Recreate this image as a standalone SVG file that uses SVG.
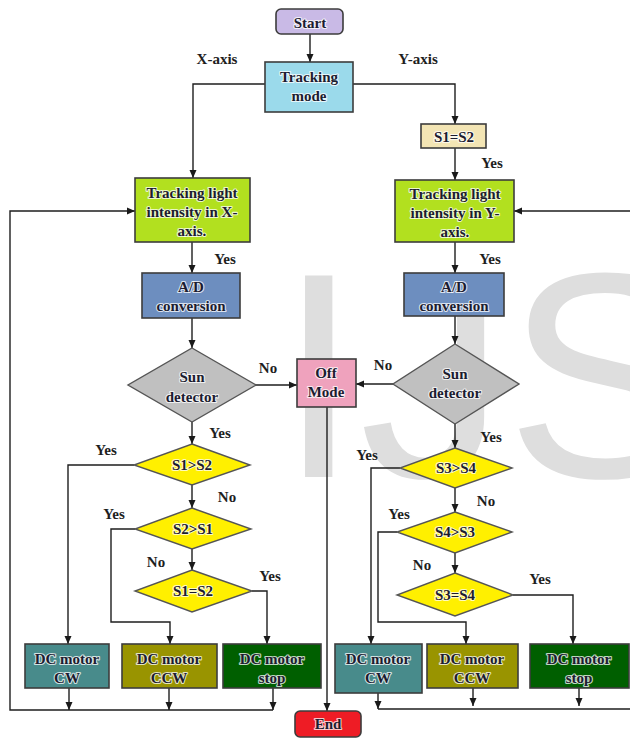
<svg xmlns="http://www.w3.org/2000/svg" width="630" height="739" viewBox="0 0 630 739">
<defs>
<marker id="ah" markerUnits="userSpaceOnUse" markerWidth="8" markerHeight="8" refX="8" refY="4" orient="auto">
<path d="M0,0.5 L8,4 L0,7.5 z" fill="#1a1a1a"/>
</marker>
</defs>
<style>
.box{stroke:#3c3c3c;stroke-width:1.6}
.dia{stroke:#555;stroke-width:1.4}
.t{font-family:"Liberation Serif",serif;font-weight:bold;font-size:15px;fill:#1c1c30;text-anchor:middle}
.h{stroke:#ffffff;stroke-opacity:0.75;stroke-width:2.2;paint-order:stroke;stroke-linejoin:round}
.lb{font-family:"Liberation Serif",serif;font-weight:bold;font-size:15px;fill:#1e1e1e;text-anchor:middle}
.c{fill:none;stroke:#1e1e1e;stroke-width:1.4}
.a{marker-end:url(#ah)}
.wm{font-family:"Liberation Sans",Arial,sans-serif;font-size:293px;fill:#dedede}
</style>
<rect width="630" height="739" fill="#ffffff"/>
<text class="wm" x="278" y="477">IJS</text>

<g id="connectors">
<path class="c a" d="M310,34 V62"/>
<path class="c a" d="M265,84 H193 V178"/>
<path class="c a" d="M353,84 H455 V124"/>
<path class="c a" d="M455,148 V180"/>
<path class="c a" d="M192,242 V273"/>
<path class="c a" d="M192,318 V348"/>
<path class="c a" d="M192,422 V444"/>
<path class="c a" d="M192,485 V508"/>
<path class="c a" d="M192,549 V570"/>
<path class="c a" d="M455,242 V273"/>
<path class="c a" d="M455,316 V344"/>
<path class="c a" d="M455,424 V448"/>
<path class="c a" d="M455,488 V512"/>
<path class="c a" d="M455,553 V573"/>
<path class="c a" d="M256,385 H297"/>
<path class="c a" d="M393,384 H356"/>
<path class="c a" d="M327,407 V711"/>
<path class="c a" d="M134,465 H68 V644"/>
<path class="c a" d="M135,529 H111 V622 H170 V644"/>
<path class="c a" d="M252,591 H267 V644"/>
<path class="c a" d="M400,468 H371 V644"/>
<path class="c a" d="M397,532 H378 V622 H466 V644"/>
<path class="c a" d="M513,595 H573 V644"/>
<path class="c a" d="M69,688 V710"/>
<path class="c a" d="M169,688 V710"/>
<path class="c a" d="M273,688 V710"/>
<path class="c a" d="M273,710 H10 V211 H135"/>
<path class="c a" d="M378,693 V709"/>
<path class="c a" d="M473,688 V706"/>
<path class="c a" d="M579,688 V706"/>
<path class="c" d="M378,709 H630"/>
<path class="c a" d="M630,211 H514"/>
</g>

<g id="labels">
<text class="lb" x="217" y="64">X-axis</text>
<text class="lb" x="418" y="64">Y-axis</text>
<text class="lb" x="492" y="168">Yes</text>
<text class="lb" x="225" y="264">Yes</text>
<text class="lb" x="490" y="264">Yes</text>
<text class="lb" x="268" y="373">No</text>
<text class="lb" x="383" y="370">No</text>
<text class="lb" x="220" y="438">Yes</text>
<text class="lb" x="106" y="455">Yes</text>
<text class="lb" x="227" y="502">No</text>
<text class="lb" x="114" y="519">Yes</text>
<text class="lb" x="156" y="567">No</text>
<text class="lb" x="270" y="581">Yes</text>
<text class="lb" x="491" y="442">Yes</text>
<text class="lb" x="367" y="460">Yes</text>
<text class="lb" x="486" y="506">No</text>
<text class="lb" x="399" y="519">Yes</text>
<text class="lb" x="422" y="570">No</text>
<text class="lb" x="540" y="584">Yes</text>
</g>

<g id="start">
<rect class="box" x="276" y="9" width="67" height="25" rx="5" fill="#c9bae6" stroke="#777"/>
<text class="t h" x="310" y="28">Start</text>
</g>
<g id="tracking-mode">
<rect class="box" x="265" y="62" width="88" height="50" fill="#9bdaeb"/>
<text class="t h" x="309" y="82">Tracking</text>
<text class="t h" x="309" y="101">mode</text>
</g>
<g id="s1eqs2-box">
<rect class="box" x="421" y="124" width="65" height="24" fill="#f3e5b4"/>
<text class="t h" x="454" y="142">S1=S2</text>
</g>
<g id="track-x">
<rect class="box" x="135" y="178" width="115" height="64" fill="#b2e01f"/>
<text class="t h" x="192" y="198">Tracking light</text>
<text class="t h" x="192" y="217">intensity in X-</text>
<text class="t h" x="192" y="236">axis.</text>
</g>
<g id="track-y">
<rect class="box" x="395" y="180" width="119" height="62" fill="#b2e01f"/>
<text class="t h" x="455" y="199">Tracking light</text>
<text class="t h" x="455" y="218">intensity in Y-</text>
<text class="t h" x="455" y="237">axis.</text>
</g>
<g id="ad-x">
<rect class="box" x="142" y="273" width="98" height="45" fill="#6d8ebf"/>
<text class="t h" x="191" y="292">A/D</text>
<text class="t h" x="191" y="311">conversion</text>
</g>
<g id="ad-y">
<rect class="box" x="404" y="273" width="100" height="43" fill="#6d8ebf"/>
<text class="t h" x="454" y="292">A/D</text>
<text class="t h" x="454" y="311">conversion</text>
</g>
<g id="sun-x">
<polygon class="dia" points="192,348 256,385 192,422 128,385" fill="#c0c0c0"/>
<text class="t h" x="192" y="382">Sun</text>
<text class="t h" x="192" y="402">detector</text>
</g>
<g id="sun-y">
<polygon class="dia" points="455,344 519,384 455,424 393,384" fill="#c0c0c0"/>
<text class="t h" x="455" y="379">Sun</text>
<text class="t h" x="455" y="398">detector</text>
</g>
<g id="off-mode">
<rect class="box" x="297" y="359" width="59" height="48" fill="#efa2bd"/>
<text class="t h" x="326" y="378">Off</text>
<text class="t h" x="326" y="397">Mode</text>
</g>
<g id="s1gts2">
<polygon class="dia" points="192,444 250,465 192,485 134,465" fill="#fff000"/>
<text class="t h" x="192" y="470">S1&gt;S2</text>
</g>
<g id="s2gts1">
<polygon class="dia" points="192,508 251,529 192,549 135,529" fill="#fff000"/>
<text class="t h" x="193" y="534">S2&gt;S1</text>
</g>
<g id="s1eqs2">
<polygon class="dia" points="192,570 252,591 192,612 135,591" fill="#fff000"/>
<text class="t h" x="193" y="596">S1=S2</text>
</g>
<g id="s3gts4">
<polygon class="dia" points="455,448 512,468 455,488 400,468" fill="#fff000"/>
<text class="t h" x="456" y="473">S3&gt;S4</text>
</g>
<g id="s4gts3">
<polygon class="dia" points="455,512 512,532 455,553 397,532" fill="#fff000"/>
<text class="t h" x="455" y="537">S4&gt;S3</text>
</g>
<g id="s3eqs4">
<polygon class="dia" points="455,573 513,595 455,616 397,595" fill="#fff000"/>
<text class="t h" x="455" y="600">S3=S4</text>
</g>
<g id="cw-x">
<rect class="box" x="25" y="644" width="84" height="44" fill="#488b8b"/>
<text class="t h" x="67" y="664">DC motor</text>
<text class="t h" x="67" y="683">CW</text>
</g>
<g id="ccw-x">
<rect class="box" x="122" y="644" width="95" height="44" fill="#999400"/>
<text class="t h" x="169" y="664">DC motor</text>
<text class="t h" x="169" y="683">CCW</text>
</g>
<g id="stop-x">
<rect class="box" x="223" y="644" width="98" height="44" fill="#005f00"/>
<text class="t h" x="272" y="664">DC motor</text>
<text class="t h" x="272" y="683">stop</text>
</g>
<g id="cw-y">
<rect class="box" x="335" y="644" width="87" height="49" fill="#488b8b" stroke="#aaa"/>
<text class="t h" x="378" y="664">DC motor</text>
<text class="t h" x="378" y="683">CW</text>
</g>
<g id="ccw-y">
<rect class="box" x="427" y="644" width="91" height="44" fill="#999400"/>
<text class="t h" x="472" y="664">DC motor</text>
<text class="t h" x="472" y="683">CCW</text>
</g>
<g id="stop-y">
<rect class="box" x="530" y="644" width="99" height="44" fill="#005f00"/>
<text class="t h" x="579" y="664">DC motor</text>
<text class="t h" x="579" y="683">stop</text>
</g>
<g id="end">
<rect class="box" x="295" y="711" width="66" height="26" rx="5" fill="#ee1c25" stroke="#888"/>
<text class="t h" x="328" y="729">End</text>
</g>
</svg>
